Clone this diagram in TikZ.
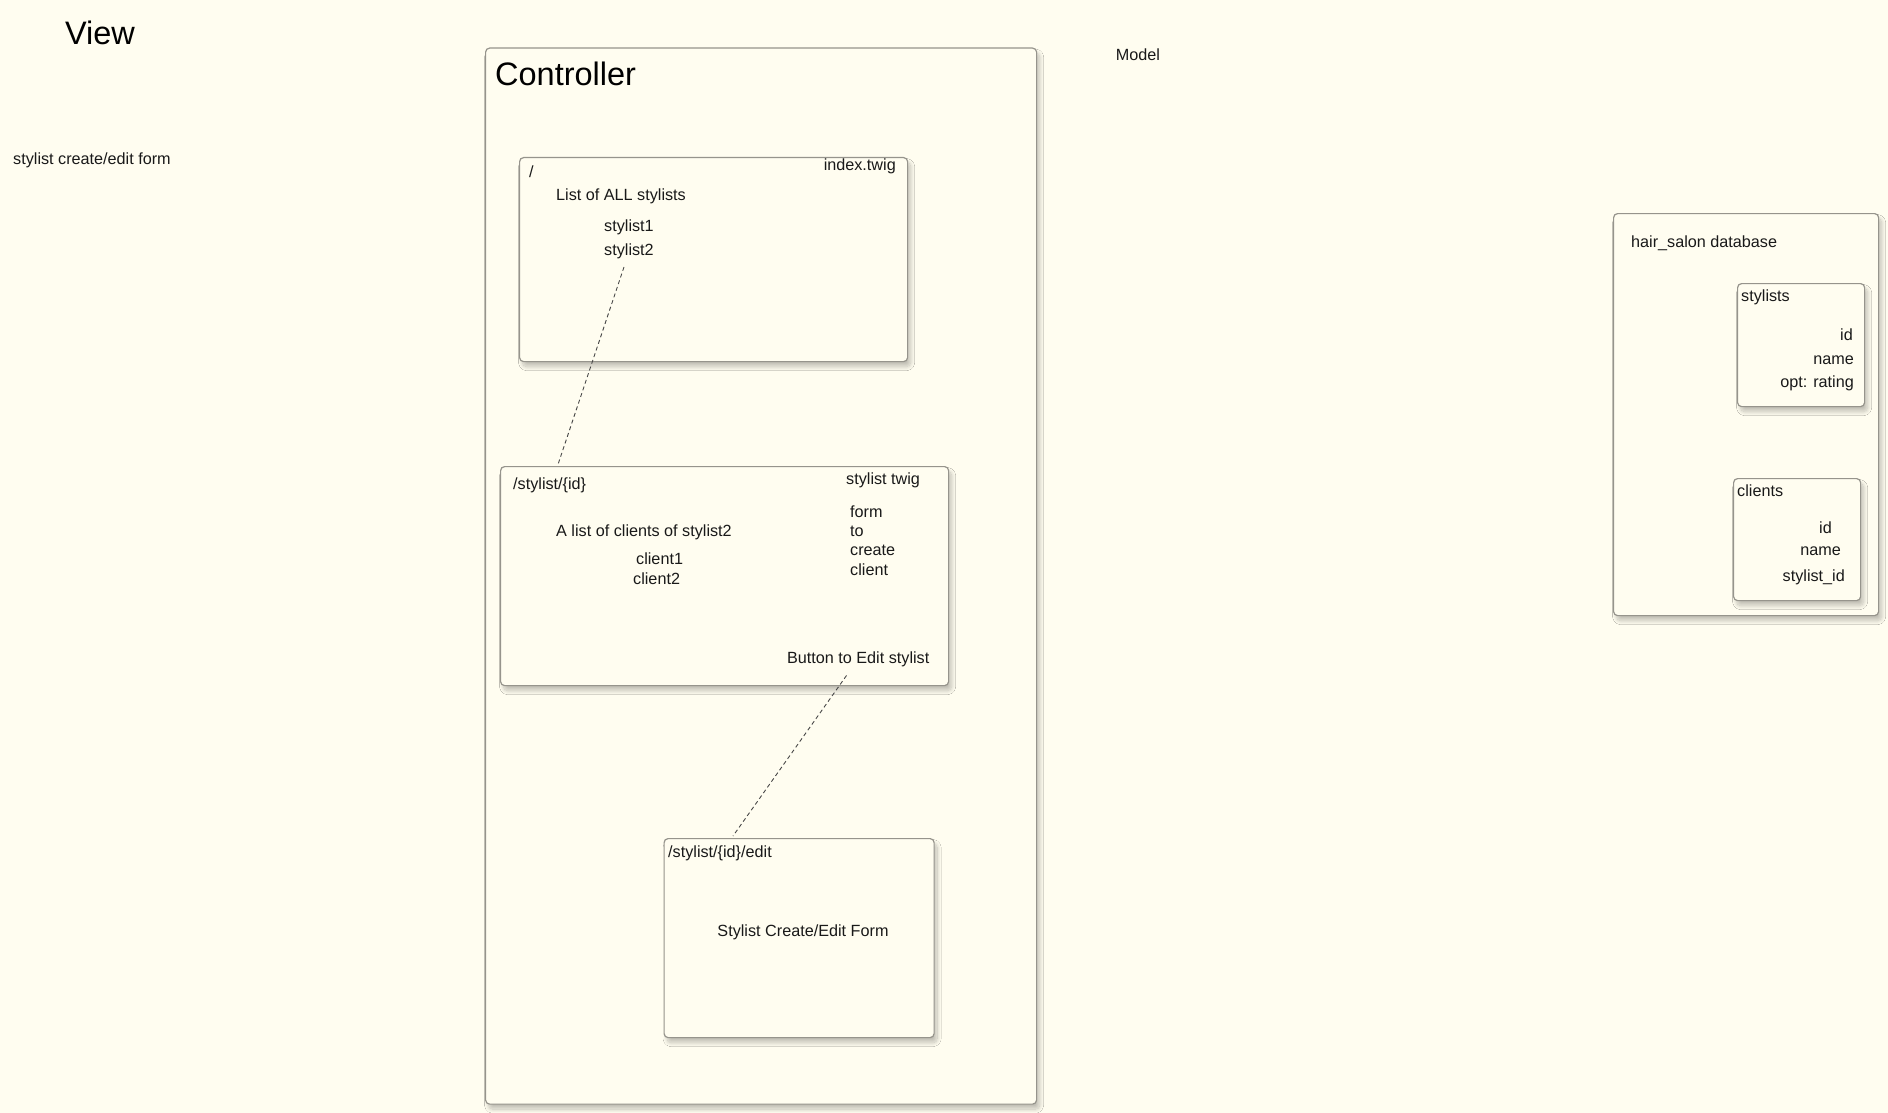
\documentclass[tikz,border=0pt]{standalone}
\usepackage{fontspec}
\setmainfont{Liberation Sans}
\usetikzlibrary{shadows.blur}
\definecolor{bg}{RGB}{255,253,240}
\definecolor{edge}{RGB}{150,148,140}
\definecolor{ink}{RGB}{25,25,25}
\tikzset{
  box/.style={draw=edge, line width=1.2pt, fill=bg, rounded corners=4pt, anchor=north west, inner sep=0pt,
    blur shadow={shadow xshift=3pt, shadow yshift=-5pt, shadow blur radius=4pt, shadow blur steps=16, shadow opacity=25}},
  txt/.style={inner sep=0pt, text=ink, font=\fontsize{16.2}{19}\selectfont},
  big/.style={inner sep=0pt, text=black, font=\fontsize{32.5}{36}\selectfont},
  link/.style={draw=ink!80, line width=0.9pt, dash pattern=on 4pt off 3pt},
}
\begin{document}
\begin{tikzpicture}[x=1pt,y=-1pt]
\fill[bg] (0,0) rectangle (1888,1113);
\useasboundingbox (0,0) rectangle (1888,1113);

% titles
\node[big] (view) at (100,32.5) {View};
\node[txt, anchor=west] (vform) at (13,160) {stylist create/edit form};
\node[txt, anchor=center] (model) at (1138,55) {Model};

% controller
\node[box, minimum width=551pt, minimum height=1056pt] (ctrl) at (485,47.5) {};
\node[big, anchor=west] (ctrlt) at (495,74) {Controller};

% index box
\node[box, minimum width=388pt, minimum height=204pt] (idx) at (519,157) {};
\node[txt, anchor=west] (slash) at (529,172) {/};
\node[txt, anchor=east] (idxt) at (896,166) {index.twig};
\node[txt, anchor=west] (all) at (556,196) {List of ALL stylists};
\node[txt, anchor=west] (s1) at (604,227) {stylist1};
\node[txt, anchor=west] (s2) at (604,251) {stylist2};

% stylist box
\node[box, minimum width=448pt, minimum height=219pt] (sty) at (500,466) {};
\node[txt, anchor=west] (styp) at (513,485) {/stylist/\{id\}};
\node[txt, anchor=west] (styt) at (846,480) {stylist twig};
\node[txt, anchor=west] (f1) at (850,512) {form};
\node[txt, anchor=west] (f2) at (850,531) {to};
\node[txt, anchor=west] (f3) at (850,550) {create};
\node[txt, anchor=west] (f4) at (850,570) {client};
\node[txt, anchor=west] (cl) at (556,532) {A list of clients of stylist2};
\node[txt, anchor=west] (c1) at (636,559) {client1};
\node[txt, anchor=west] (c2) at (633,579) {client2};
\node[txt, anchor=east] (btn) at (929.5,659) {Button to Edit stylist};

% edit box
\node[box, minimum width=270pt, minimum height=199pt] (edit) at (663.5,838) {};
\node[txt, anchor=west] (editp) at (668,853.5) {/stylist/\{id\}/edit};
\node[txt, anchor=center] (editf) at (803,932) {Stylist Create/Edit Form};

% connectors
\coordinate (a1) at (624,267);
\coordinate (a2) at (557.5,466);
\coordinate (b1) at (846.5,675.5);
\coordinate (b2) at (733,836);
\draw[link] (a1) -- (a2);
\draw[link] (b1) -- (b2);

% database
\node[box, minimum width=265pt, minimum height=402pt] (db) at (1613,213) {};
\node[txt, anchor=west] (dbt) at (1631,243) {hair\_salon database};
\node[box, minimum width=127pt, minimum height=123pt] (tst) at (1737,283) {};
\node[txt, anchor=west] (tstt) at (1741,297) {stylists};
\node[txt, anchor=east] (tid) at (1853,335) {id};
\node[txt, anchor=east] (tname) at (1854,360) {name};
\node[txt, anchor=east] (trate) at (1854,383) {opt: rating};
\node[box, minimum width=127pt, minimum height=122pt] (tcl) at (1733,478) {};
\node[txt, anchor=west] (tclt) at (1737,491) {clients};
\node[txt, anchor=east] (cid) at (1832,528) {id};
\node[txt, anchor=east] (cname) at (1841,551) {name};
\node[txt, anchor=east] (csid) at (1845,577) {stylist\_id};
\end{tikzpicture}
\end{document}
